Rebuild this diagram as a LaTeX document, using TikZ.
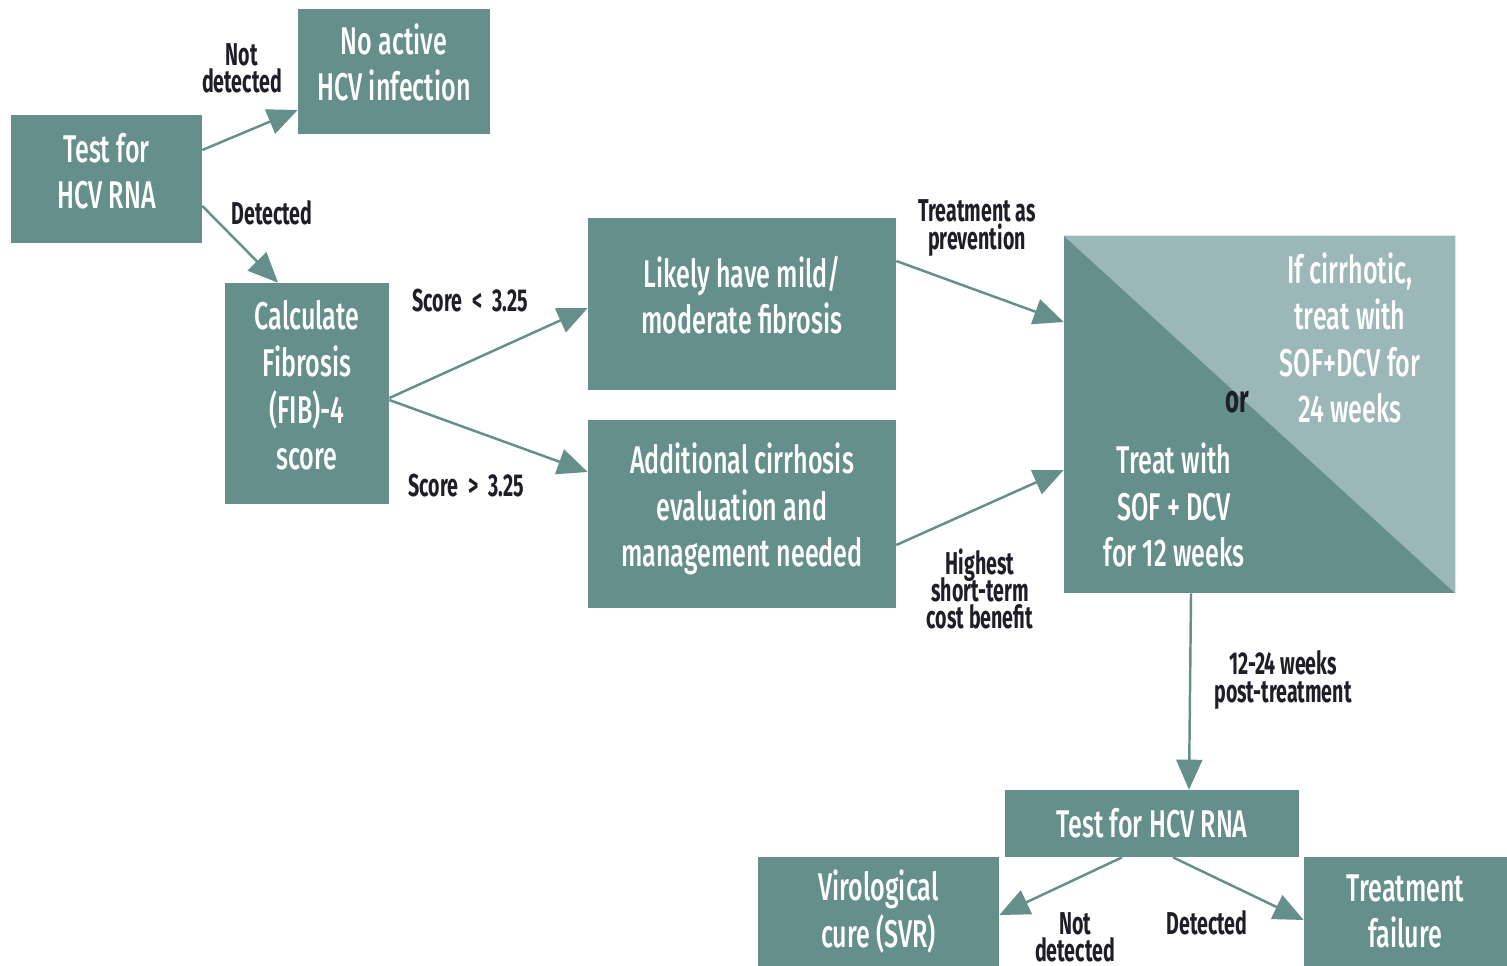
\documentclass[tikz,border=0pt]{standalone}
\usepackage{fontspec}
\setmainfont{Fira Sans}[FakeStretch=0.62]
\newfontfamily\boxfont{Fira Sans Medium}[FakeStretch=0.65]
\usepackage{tikz}
\usetikzlibrary{arrows.meta, positioning, calc}
\definecolor{hcvteal}{RGB}{100, 143, 139}
\definecolor{hcvlight}{RGB}{155, 183, 183}
\definecolor{labeldark}{RGB}{30, 30, 40}
% box text sits a little above the middle of its box
\newcommand{\boxlines}[1]{\raisebox{0.06cm}[\height][\depth]{\begin{tabular}{@{}c@{}}#1\end{tabular}}}
\newcommand{\tightlines}{\lineskiplimit -20pt\relax}

\begin{document}
\begin{tikzpicture}[
  x = 0.02cm, y = -0.02cm,
  box/.style      = {rectangle, fill=hcvteal, inner sep=0pt, align=center,
                     text=white, font=\boxfont\fontsize{22}{26.4}\selectfont},
  lbl/.style      = {align=center, text=labeldark,
                     font=\bfseries\fontsize{18}{15.5}\selectfont\tightlines},
  arrow/.style    = {-{Triangle[length=0.6cm, width=0.52cm]}, draw=hcvteal,
                     line width=1.4pt}
]
\useasboundingbox (0,0) rectangle (1507,966);

%% Screening
\node[box, minimum width=3.82cm, minimum height=2.56cm] (test) at (106.5,179)
  {\boxlines{Test for\\HCV RNA}};
\node[box, minimum width=3.84cm, minimum height=2.5cm] (noinf) at (394,71.5)
  {\boxlines{No active\\HCV infection}};
\node[box, minimum width=3.28cm, minimum height=4.42cm] (fib) at (307,393.5)
  {\boxlines{Calculate\\Fibrosis\\(FIB)-4\\score}};

%% Staging
\node[box, minimum width=6.16cm, minimum height=3.44cm] (mild) at (742,304)
  {\boxlines{Likely have mild/\\moderate fibrosis}};
\node[box, minimum width=6.16cm, minimum height=3.76cm] (cirr) at (742,514)
  {\boxlines{Additional cirrhosis\\evaluation and\\management needed}};

%% Treatment
\node[box, minimum width=7.82cm, minimum height=7.14cm] (treat) at (1259.5,414.5) {};
\fill[hcvlight] (treat.north west) -- (treat.north east) -- (treat.south east) -- cycle;
\node[box, fill=none] (long) at (1350,338)
  {If cirrhotic,\\treat with\\SOF+DCV for\\24 weeks};
\node[box, fill=none] (short) at (1174,505)
  {Treat with\\SOF + DCV\\for 12 weeks};
\node[lbl, font=\bfseries\fontsize{22}{26}\selectfont] (or) at (1237,402) {or};

%% Follow-up
\node[box, minimum width=5.88cm, minimum height=1.34cm] (retest) at (1152,823.5)
  {Test for HCV RNA};
\node[box, minimum width=4.82cm, minimum height=2.18cm] (svr) at (878.5,911.5)
  {Virological\\cure (SVR)};
\node[box, minimum width=4.06cm, minimum height=2.18cm] (fail) at (1405.5,911.5)
  {Treatment\\failure};

%% Arrows
\draw[arrow] ([yshift=0.58cm]test.east) -- ([yshift=-0.77cm]noinf.west);
\draw[arrow] ([yshift=-0.54cm]test.east) -- ([xshift=-0.58cm]fib.north);
\draw[arrow] ([yshift=-0.09cm]fib.east) -- ([yshift=-0.08cm]mild.west);
\draw[arrow] ([yshift=-0.13cm]fib.east) -- ([yshift=0.84cm]cirr.west);
\draw[arrow] ([yshift=0.86cm]mild.east) -- ([yshift=1.85cm]treat.west);
\draw[arrow] ([yshift=-0.62cm]cirr.east) -- ([yshift=-1.11cm]treat.west);
\draw[arrow] ([xshift=-1.37cm]treat.south) -- ([xshift=0.74cm]retest.north);
\draw[arrow] ([xshift=-0.6cm]retest.south) -- ([yshift=-0.07cm]svr.east);
\draw[arrow] ([xshift=0.42cm]retest.south) -- ([yshift=-0.17cm]fail.west);

%% Labels
\node[lbl] (lnot) at (242,68) {Not\\detected};
\node[lbl] (ldet) at (272,213) {Detected};
\node[lbl] (llow) at (470,301) {Score \,<\, 3.25};
\node[lbl] (lhigh) at (466,486) {Score \,>\, 3.25};
\node[lbl] (lprev) at (977,228) {Treatment as\\prevention};
\node[lbl] (lcost) at (980,589) {Highest\\short-term\\cost benefit};
\node[lbl] (lpost) at (1283,680) {12-24 weeks\\post-treatment};
\node[lbl] (lnot2) at (1075,937) {Not\\detected};
\node[lbl] (ldet2) at (1207,923) {Detected};

\end{tikzpicture}
\end{document}
